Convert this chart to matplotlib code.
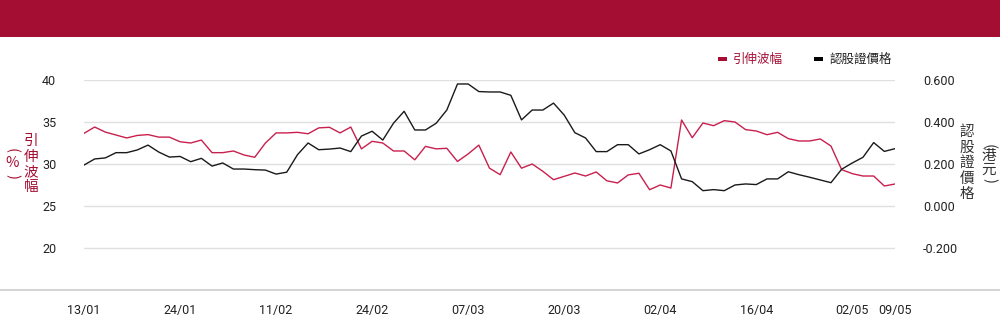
import matplotlib
matplotlib.use("Agg")
import matplotlib.pyplot as plt
from matplotlib.lines import Line2D
from matplotlib.patches import Rectangle

plt.rcParams['font.family'] = ['Roboto', 'Noto Sans CJK TC', 'DejaVu Sans']

dates = ["13/01", "24/01", "11/02", "24/02", "07/03", "20/03", "02/04", "16/04", "02/05", "09/05"]
date_idx = [0, 9, 18, 27, 36, 45, 54, 63, 72, 76]

implied_vol = [33.65, 34.4, 33.8, 33.45, 33.1, 33.4, 33.5, 33.2, 33.2, 32.65,
               32.5, 32.85, 31.35, 31.35, 31.55, 31.07, 30.8, 32.5, 33.7, 33.7,
               33.77, 33.6, 34.3, 34.37, 33.7, 34.4, 31.8, 32.7, 32.5, 31.55,
               31.55, 30.5, 32.1, 31.8, 31.87, 30.3, 31.2, 32.25, 29.5, 28.73,
               31.43, 29.5, 30.0, 29.13, 28.13, 28.53, 28.93, 28.57, 29.05, 28.0,
               27.74, 28.7, 28.9, 26.94, 27.5, 27.14, 35.24, 33.13, 34.88, 34.56,
               35.16, 35.0, 34.09, 33.93, 33.49, 33.77, 33.02, 32.74, 32.74, 32.98,
               32.14, 29.33, 28.85, 28.57, 28.57, 27.38, 27.62]

warrant_price = [0.195, 0.224, 0.229, 0.254, 0.254, 0.267, 0.290, 0.257, 0.233, 0.236,
                 0.211, 0.227, 0.190, 0.205, 0.176, 0.176, 0.173, 0.171, 0.152, 0.161,
                 0.244, 0.300, 0.268, 0.271, 0.276, 0.259, 0.333, 0.356, 0.314, 0.394,
                 0.451, 0.362, 0.362, 0.394, 0.457, 0.581, 0.581, 0.545, 0.543, 0.543,
                 0.527, 0.410, 0.457, 0.457, 0.490, 0.433, 0.349, 0.324, 0.259, 0.259,
                 0.292, 0.292, 0.248, 0.268, 0.292, 0.262, 0.129, 0.116, 0.073, 0.078,
                 0.073, 0.100, 0.105, 0.102, 0.129, 0.129, 0.163, 0.149, 0.137, 0.124,
                 0.111, 0.175, 0.205, 0.232, 0.302, 0.260, 0.273]

left_ticks = [20, 25, 30, 35, 40]
right_ticks = [-0.2, 0.0, 0.2, 0.4, 0.6]

RED_LINE = '#C8204E'
RED_DARK = '#A50E33'
BLACK = '#1a1a1a'
GRID = '#e0e0e0'
CJK = ['Noto Sans CJK TC', 'DejaVu Sans']

W, H = 1000, 324
fig = plt.figure(figsize=(W / 100, H / 100), dpi=100)
fig.patch.set_facecolor('white')

# header band
fig.add_artist(Rectangle((0, 1 - 37 / H), 1, 37 / H, transform=fig.transFigure,
                         facecolor=RED_DARK, edgecolor='none'))

x0, x1 = 84 / W, 895 / W
ytop, ybot = 80, 290
ax = fig.add_axes([x0, (H - ybot) / H, x1 - x0, (ybot - ytop) / H])
ax2 = ax.twinx()

xs = list(range(len(implied_vol)))
ax.set_xlim(0, len(xs) - 1)
ax.set_ylim(15, 40)
ax2.set_ylim(-0.4, 0.6)

for v in left_ticks:
    ax.axhline(v, color=GRID, lw=1, zorder=0)

ax.plot(xs, implied_vol, color=RED_LINE, lw=1.0, zorder=3)
ax2.plot(xs, warrant_price, color=BLACK, lw=1.0, zorder=3)

for a in (ax, ax2):
    for s in a.spines.values():
        s.set_visible(False)
    a.patch.set_visible(False)

ax.set_yticks(left_ticks)
ax.set_yticklabels([str(v) for v in left_ticks])
ax2.set_yticks(right_ticks)
ax2.set_yticklabels([f"{v:.3f}" for v in right_ticks])
ax.tick_params(axis='y', length=0, pad=20, labelsize=9, labelcolor='#222222')
ax2.tick_params(axis='y', length=0, pad=20, labelsize=9, labelcolor='#222222')

ax.set_xticks(date_idx)
ax.set_xticklabels(dates)
ax.tick_params(axis='x', length=0, pad=10, labelsize=9, labelcolor='#222222')

# bottom baseline spanning full width
fig.add_artist(Line2D([0, 1], [(H - ybot) / H, (H - ybot) / H], transform=fig.transFigure,
                      color='#cccccc', lw=1.2))


def vtext(x, y, s, color):
    fig.text(x / W, 1 - y / H, s, color=color, fontsize=10.5, ha='center', va='center',
             family=CJK)


def vparen(x, y, s, color):
    fig.text(x / W, 1 - y / H, s, color=color, fontsize=10.5, ha='center', va='center',
             rotation=-90, family=CJK)


# left axis label (vertical)
for i, ch in enumerate("引伸波幅"):
    vtext(31, 141 + i * 15.5, ch, RED_DARK)
vparen(12, 150, "(", RED_DARK)
vtext(12, 163, "%", RED_DARK)
vparen(12, 176, ")", RED_DARK)

# right axis label (vertical)
for i, ch in enumerate("認股證價格"):
    vtext(967, 132 + i * 15.5, ch, '#333333')
vparen(989, 146, "(", '#333333')
vtext(989, 156, "港", '#333333')
vtext(989, 170, "元", '#333333')
vparen(989, 181, ")", '#333333')

# legend
ly = 1 - 59 / H
fig.add_artist(Rectangle((718 / W, ly - 2 / H), 9 / W, 4 / H, transform=fig.transFigure,
                         facecolor=RED_DARK, edgecolor='none'))
fig.text(733 / W, ly, "引伸波幅", color=RED_DARK, fontsize=9, ha='left', va='center',
         family=CJK)
fig.add_artist(Rectangle((814 / W, ly - 2 / H), 9 / W, 4 / H, transform=fig.transFigure,
                         facecolor='#000000', edgecolor='none'))
fig.text(830 / W, ly, "認股證價格", color='#222222', fontsize=9, ha='left', va='center',
         family=CJK)

fig.savefig("out.png", dpi=100)
